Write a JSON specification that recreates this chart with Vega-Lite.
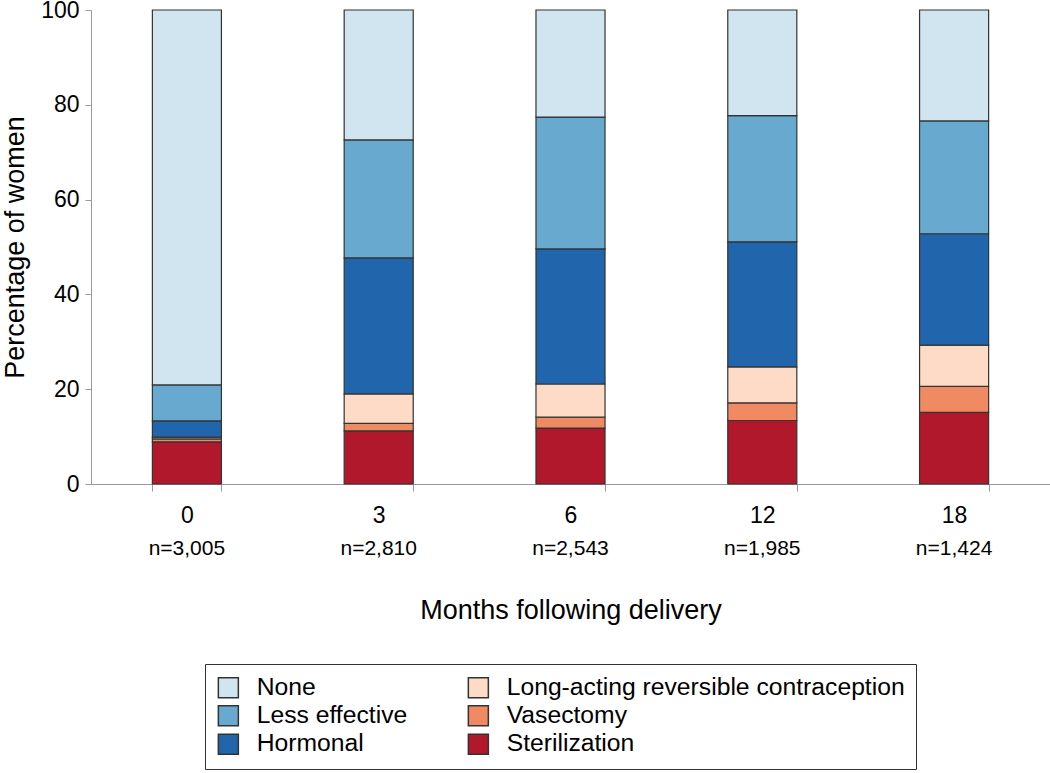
{
  "$schema": "https://vega.github.io/schema/vega-lite/v6.json",
  "width": 959,
  "height": 474,
  "autosize": {"type": "none"},
  "padding": {"left": 91, "top": 10, "right": 0, "bottom": 289},
  "background": "white",
  "config": {"font": "Liberation Sans", "view": {"stroke": null}},
  "data": {
    "values": [
      {"period": "0|n=3,005", "month": 0, "method": "Sterilization", "rank": 1, "percent": 8.9},
      {"period": "0|n=3,005", "month": 0, "method": "Vasectomy", "rank": 2, "percent": 0.6},
      {"period": "0|n=3,005", "month": 0, "method": "Long-acting reversible contraception", "rank": 3, "percent": 0.4},
      {"period": "0|n=3,005", "month": 0, "method": "Hormonal", "rank": 4, "percent": 3.4},
      {"period": "0|n=3,005", "month": 0, "method": "Less effective", "rank": 5, "percent": 7.6},
      {"period": "0|n=3,005", "month": 0, "method": "None", "rank": 6, "percent": 79.1},
      {"period": "3|n=2,810", "month": 3, "method": "Sterilization", "rank": 1, "percent": 11.2},
      {"period": "3|n=2,810", "month": 3, "method": "Vasectomy", "rank": 2, "percent": 1.6},
      {"period": "3|n=2,810", "month": 3, "method": "Long-acting reversible contraception", "rank": 3, "percent": 6.2},
      {"period": "3|n=2,810", "month": 3, "method": "Hormonal", "rank": 4, "percent": 28.7},
      {"period": "3|n=2,810", "month": 3, "method": "Less effective", "rank": 5, "percent": 24.9},
      {"period": "3|n=2,810", "month": 3, "method": "None", "rank": 6, "percent": 27.4},
      {"period": "6|n=2,543", "month": 6, "method": "Sterilization", "rank": 1, "percent": 11.8},
      {"period": "6|n=2,543", "month": 6, "method": "Vasectomy", "rank": 2, "percent": 2.3},
      {"period": "6|n=2,543", "month": 6, "method": "Long-acting reversible contraception", "rank": 3, "percent": 7.0},
      {"period": "6|n=2,543", "month": 6, "method": "Hormonal", "rank": 4, "percent": 28.5},
      {"period": "6|n=2,543", "month": 6, "method": "Less effective", "rank": 5, "percent": 27.8},
      {"period": "6|n=2,543", "month": 6, "method": "None", "rank": 6, "percent": 22.6},
      {"period": "12|n=1,985", "month": 12, "method": "Sterilization", "rank": 1, "percent": 13.4},
      {"period": "12|n=1,985", "month": 12, "method": "Vasectomy", "rank": 2, "percent": 3.7},
      {"period": "12|n=1,985", "month": 12, "method": "Long-acting reversible contraception", "rank": 3, "percent": 7.6},
      {"period": "12|n=1,985", "month": 12, "method": "Hormonal", "rank": 4, "percent": 26.4},
      {"period": "12|n=1,985", "month": 12, "method": "Less effective", "rank": 5, "percent": 26.6},
      {"period": "12|n=1,985", "month": 12, "method": "None", "rank": 6, "percent": 22.3},
      {"period": "18|n=1,424", "month": 18, "method": "Sterilization", "rank": 1, "percent": 15.1},
      {"period": "18|n=1,424", "month": 18, "method": "Vasectomy", "rank": 2, "percent": 5.5},
      {"period": "18|n=1,424", "month": 18, "method": "Long-acting reversible contraception", "rank": 3, "percent": 8.7},
      {"period": "18|n=1,424", "month": 18, "method": "Hormonal", "rank": 4, "percent": 23.5},
      {"period": "18|n=1,424", "month": 18, "method": "Less effective", "rank": 5, "percent": 23.8},
      {"period": "18|n=1,424", "month": 18, "method": "None", "rank": 6, "percent": 23.4}
    ]
  },
  "layer": [
    {
      "mark": {"type": "bar", "stroke": "#333333", "strokeWidth": 1.2},
      "encoding": {
        "x": {
          "field": "period",
          "type": "ordinal",
          "sort": {"field": "month", "op": "min"},
          "scale": {"paddingInner": 0.64, "paddingOuter": 0.32},
          "axis": {
            "orient": "bottom",
            "title": null,
            "labelExpr": "split(datum.label, '|')[0]",
            "labelAngle": 0,
            "labelFontSize": 23,
            "labelColor": "#000000",
            "labelPadding": 13,
            "tickBand": "extent",
            "tickSize": 7,
            "tickColor": "#999999",
            "domainColor": "#999999",
            "grid": false
          }
        },
        "y": {
          "field": "percent",
          "type": "quantitative",
          "stack": "zero",
          "scale": {"domain": [0, 100], "nice": false},
          "axis": {
            "values": [0, 20, 40, 60, 80, 100],
            "title": "Percentage of women",
            "titleFontSize": 27,
            "titleFontWeight": "normal",
            "titleColor": "#000000",
            "titlePadding": 11,
            "labelFontSize": 23,
            "labelColor": "#000000",
            "labelPadding": 6,
            "tickSize": 6,
            "tickColor": "#999999",
            "domainColor": "#999999",
            "grid": false
          }
        },
        "color": {
          "field": "method",
          "type": "nominal",
          "scale": {
            "domain": ["None", "Less effective", "Hormonal", "Long-acting reversible contraception", "Vasectomy", "Sterilization"],
            "range": ["#d1e5f0", "#67a9cf", "#2166ac", "#fddbc7", "#ef8a62", "#b2182b"]
          },
          "legend": {
            "orient": "none",
            "legendX": 114,
            "legendY": 654,
            "columns": 2,
            "columnPadding": 57,
            "title": null,
            "symbolType": "square",
            "symbolSize": 400,
            "symbolStrokeColor": "#333333",
            "symbolStrokeWidth": 1.5,
            "labelFontSize": 24.7,
            "labelColor": "#000000",
            "labelOffset": 16,
            "labelLimit": 0,
            "padding": 11,
            "rowPadding": 1.5,
            "strokeColor": "#333333"
          }
        },
        "order": {"field": "rank", "type": "quantitative"}
      }
    },
    {
      "mark": {"type": "text", "text": ""},
      "encoding": {
        "x": {
          "field": "period",
          "type": "ordinal",
          "sort": {"field": "month", "op": "min"},
          "axis": {
            "orient": "bottom",
            "offset": 53,
            "domain": false,
            "ticks": false,
            "labelExpr": "split(datum.label, '|')[1]",
            "labelAngle": 0,
            "labelFontSize": 21,
            "labelColor": "#000000",
            "labelPadding": 0,
            "title": "Months following delivery",
            "titleFontSize": 27,
            "titleFontWeight": "normal",
            "titleColor": "#000000",
            "titlePadding": 39,
            "grid": false
          }
        }
      }
    }
  ],
  "resolve": {"axis": {"x": "independent"}}
}
